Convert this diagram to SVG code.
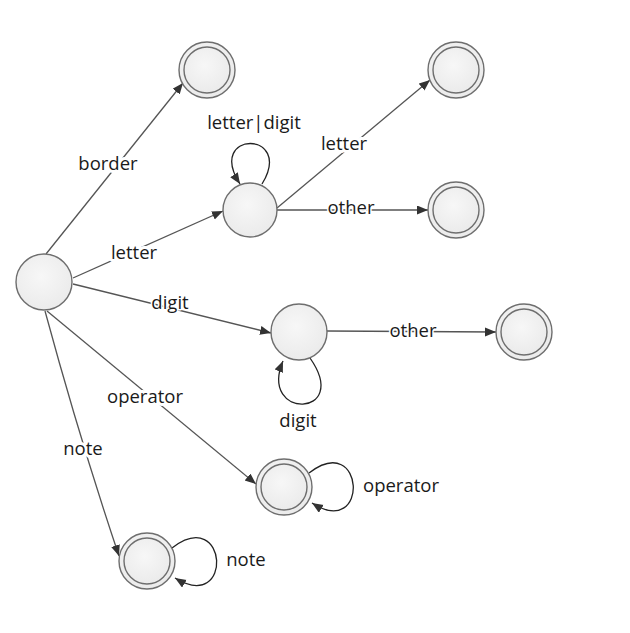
<svg xmlns="http://www.w3.org/2000/svg" width="630" height="633" viewBox="0 0 630 633">
<defs>
<radialGradient id="g" cx="0.45" cy="0.4" r="0.6">
<stop offset="0" stop-color="#f7f7f7"/>
<stop offset="1" stop-color="#ebebeb"/>
</radialGradient>
<marker id="a" markerUnits="userSpaceOnUse" markerWidth="12" markerHeight="10" refX="11" refY="4.5" orient="auto">
<path d="M0,0 L11,4.5 L0,9 z" fill="#333"/>
</marker>
<style>
.n{fill:url(#g);stroke:#6e6e6e;stroke-width:1.4}
.e{fill:none;stroke:#555;stroke-width:1.3;marker-end:url(#a)}
.l{fill:none;stroke:#222;stroke-width:1.3;marker-end:url(#a)}
text{font-family:"Open Sans","DejaVu Sans",sans-serif;font-size:18.5px;fill:#1a1a1a;text-anchor:middle;paint-order:stroke;stroke:#fff;stroke-width:6px;stroke-linejoin:round}
.t{stroke-width:3px}
</style>
</defs>
<rect width="630" height="633" fill="#fff"/>
<g id="connectors">
<path class="e" d="M46,254 L183,83"/>
<path class="e" d="M73,278 L223,211"/>
<path class="e" d="M73,284 L271,333"/>
<path class="e" d="M47,311 L256,484"/>
<path class="e" d="M45,311 Q80,440 119,556"/>
<path class="e" d="M277,208 L430,80"/>
<path class="e" d="M277,210 L428,210"/>
<path class="e" d="M327,331 L496,332"/>
<path class="l" d="M262,184 C295,130 205,130 240,184"/>
<path class="l" d="M310,358 C352,418 258,420 283,361"/>
<path class="l" d="M309,473 C365,430 370,540 312,503"/>
<path class="l" d="M172,548 C228,505 234,614 175,578"/>
<text x="108" y="170">border</text>
<text x="134" y="259">letter</text>
<text class="t" x="170" y="309">digit</text>
<text x="254" y="129">letter|digit</text>
<text x="344" y="150">letter</text>
<text class="t" x="351" y="214">other</text>
<text class="t" x="413" y="337">other</text>
<text x="298" y="427">digit</text>
<text x="145" y="403">operator</text>
<text x="83" y="455">note</text>
<text x="401" y="492">operator</text>
<text x="246" y="566">note</text>
</g>
<g id="start"><circle class="n" cx="44" cy="282" r="28"/></g>
<g id="border_final"><circle class="n" cx="207" cy="70" r="28"/><circle class="n" cx="207" cy="70" r="23"/></g>
<g id="ident"><circle class="n" cx="250" cy="210" r="27"/></g>
<g id="ident_letter_final"><circle class="n" cx="456" cy="70" r="28"/><circle class="n" cx="456" cy="70" r="23"/></g>
<g id="ident_other_final"><circle class="n" cx="456" cy="210" r="28"/><circle class="n" cx="456" cy="210" r="23"/></g>
<g id="number"><circle class="n" cx="299" cy="332" r="28"/></g>
<g id="number_other_final"><circle class="n" cx="524" cy="332" r="28"/><circle class="n" cx="524" cy="332" r="23"/></g>
<g id="operator_final"><circle class="n" cx="284" cy="487" r="28"/><circle class="n" cx="284" cy="487" r="23"/></g>
<g id="note_final"><circle class="n" cx="147" cy="561" r="28"/><circle class="n" cx="147" cy="561" r="23"/></g>
</svg>
